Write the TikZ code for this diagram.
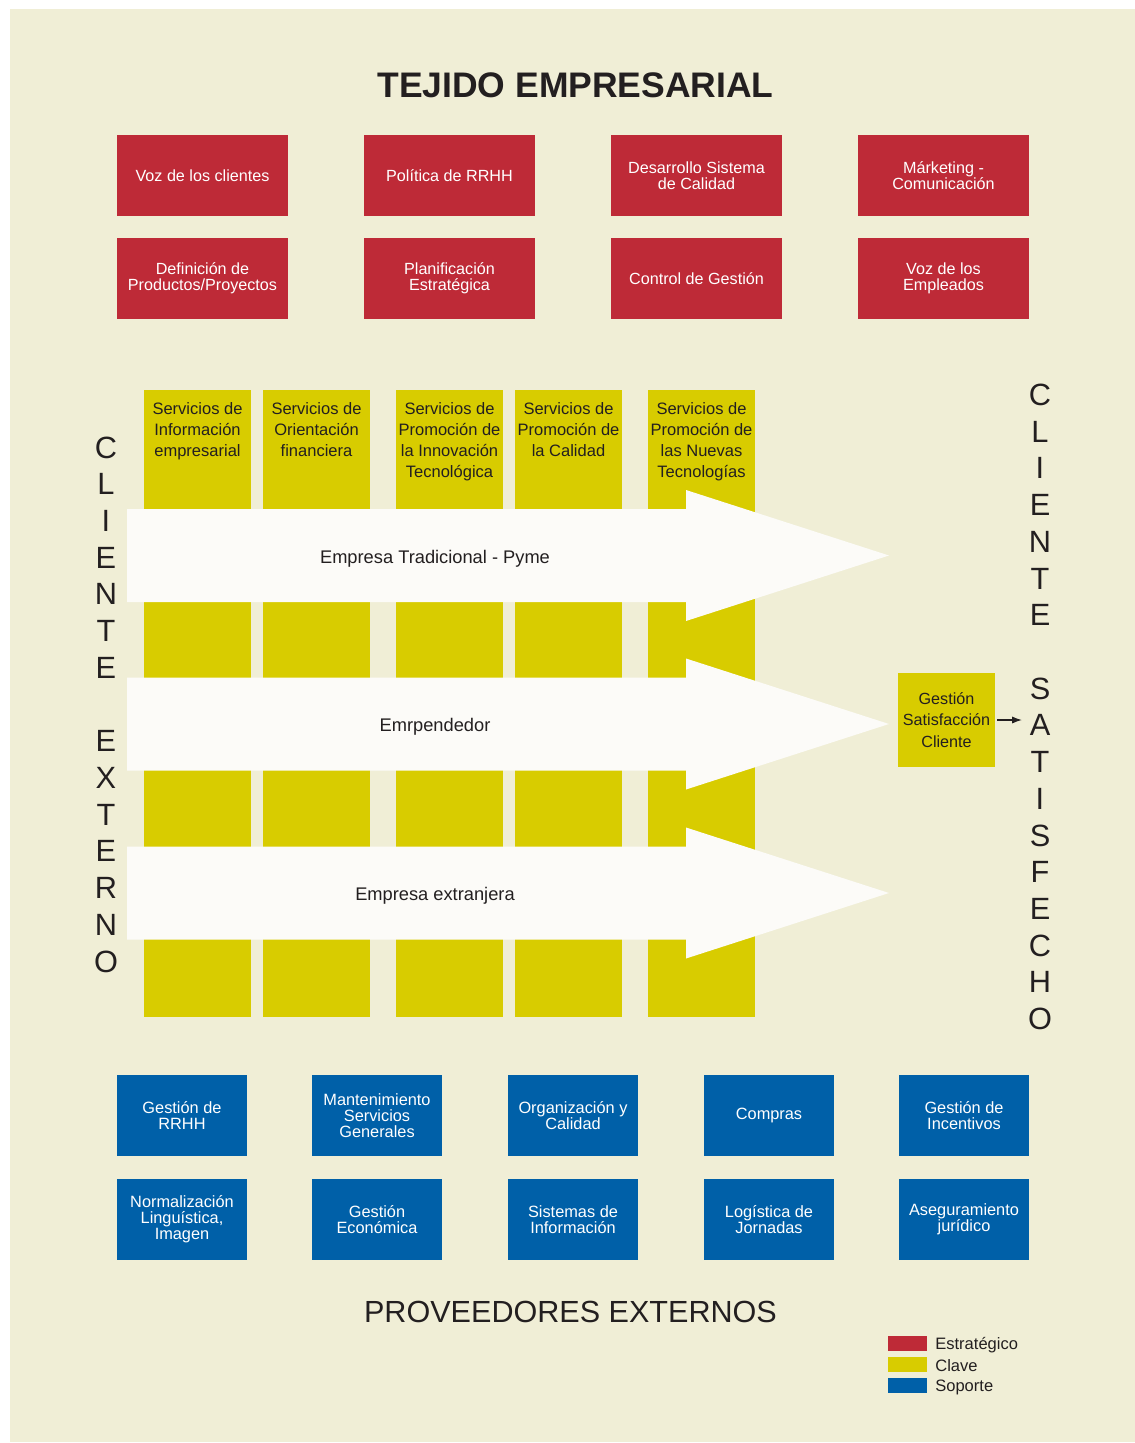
\documentclass[tikz,border=0pt]{standalone}
\usepackage{fontspec}
\setmainfont{Liberation Sans}
\usetikzlibrary{arrows.meta}
\definecolor{paper}{HTML}{F0EED6}
\definecolor{stratred}{HTML}{BE2A37}
\definecolor{keyyellow}{HTML}{D8CC00}
\definecolor{supblue}{HTML}{0060A8}
\definecolor{ink}{HTML}{231F20}
\definecolor{arrowwhite}{HTML}{FCFBF8}
\tikzset{
  strat/.style={fill=stratred, text=white, minimum width=3.42cm, minimum height=1.62cm,
    inner sep=0pt, align=center, font=\fontsize{9.2}{9.1}\selectfont},
  supp/.style={fill=supblue, text=white, minimum width=2.6cm, minimum height=1.62cm,
    inner sep=0pt, align=center, font=\fontsize{9.3}{9.1}\selectfont},
  keycol/.style={fill=keyyellow, minimum width=2.14cm, minimum height=12.54cm, inner sep=0pt},
  keytext/.style={text=ink, align=center, anchor=north, inner sep=0pt,
    font=\fontsize{9.4}{12}\selectfont},
  gscbox/.style={fill=keyyellow, text=ink, minimum width=1.94cm, minimum height=1.88cm,
    inner sep=0pt, align=center, font=\fontsize{9.2}{12.2}\selectfont},
  vletters/.style={text=ink, align=center, font=\fontsize{17.5}{20.9}\selectfont},
  flowlabel/.style={text=ink, font=\fontsize{10.4}{12}\selectfont},
  legbox/.style={minimum width=0.78cm, minimum height=0.3cm, inner sep=0pt},
  legtext/.style={text=ink, anchor=west, inner sep=0pt, font=\fontsize{9.4}{11}\selectfont}
}
\begin{document}
\begin{tikzpicture}[x=0.02cm, y=-0.02cm]
\useasboundingbox (0,0) rectangle (1135,1443);
\fill[paper] (10,9) rectangle (1135,1442);

% Title
\node[text=ink, font=\bfseries\fontsize{20.2}{24}\selectfont] (tejido) at (575.5,85) {TEJIDO EMPRESARIAL};

% Strategic processes
\node[strat] (vozcli) at (202.5,175.5) {Voz de los clientes};
\node[strat] (polrrhh) at (449.5,175.5) {Política de RRHH};
\node[strat] (descal) at (696.5,175.5) {Desarrollo Sistema\\de Calidad};
\node[strat] (marketing) at (943.5,175.5) {Márketing -\\Comunicación};
\node[strat] (defprod) at (202.5,278.5) {Definición de\\Productos/Proyectos};
\node[strat] (planest) at (449.5,278.5) {Planificación\\Estratégica};
\node[strat] (control) at (696.5,278.5) {Control de Gestión};
\node[strat] (vozemp) at (943.5,278.5) {Voz de los\\Empleados};

% Key processes (columns)
\node[keycol] (infoemp) at (197.5,703.5) {};
\node[keycol] (orifin) at (316.5,703.5) {};
\node[keycol] (innov) at (449.5,703.5) {};
\node[keycol] (calidad) at (568.5,703.5) {};
\node[keycol] (nuevtec) at (701.5,703.5) {};
\node[keytext] (infoemptxt) at ([yshift=-0.24cm]infoemp.north) {Servicios de\\Información\\empresarial};
\node[keytext] (orifintxt) at ([yshift=-0.24cm]orifin.north) {Servicios de\\Orientación\\financiera};
\node[keytext] (innovtxt) at ([yshift=-0.24cm]innov.north) {Servicios de\\Promoción de\\la Innovación\\Tecnológica};
\node[keytext] (calidadtxt) at ([yshift=-0.24cm]calidad.north) {Servicios de\\Promoción de\\la Calidad};
\node[keytext] (nuevtectxt) at ([yshift=-0.24cm]nuevtec.north) {Servicios de\\Promoción de\\las Nuevas\\Tecnologías};

% Client flows
\foreach \y/\lab/\txt in {555.5/pyme/Empresa Tradicional - Pyme, 724/emprende/Emrpendedor, 893/extranjera/Empresa extranjera} {
  \fill[arrowwhite] (127,\y-46.5) -- (686,\y-46.5) -- (686,\y-65.5) -- (889,\y)
    -- (686,\y+65.5) -- (686,\y+46.5) -- (127,\y+46.5) -- cycle;
  \node[flowlabel] (\lab) at (435,\y+3) {\txt};
}

% Client sides
\node[vletters] (cliext) at (106,704.5) {C\\L\\I\\E\\N\\T\\E\\~\\E\\X\\T\\E\\R\\N\\O};
\node[vletters] (clisat) at (1040,707) {C\\L\\I\\E\\N\\T\\E\\~\\S\\A\\T\\I\\S\\F\\E\\C\\H\\O};
\node[gscbox] (gsc) at (946.5,720) {Gestión\\Satisfacción\\Cliente};
\draw[ink, line width=0.6pt, shorten <=1pt, -{Latex[length=5.5pt,width=4pt]}] (gsc.east) -- (gsc.east -| clisat.west);

% Support processes
\node[supp] (gesrrhh) at (182,1115.5) {Gestión de\\RRHH};
\node[supp] (manten) at (377,1115.5) {Mantenimiento\\Servicios\\Generales};
\node[supp] (orgcal) at (573,1115.5) {Organización y\\Calidad};
\node[supp] (compras) at (769,1115.5) {Compras};
\node[supp] (incent) at (964,1115.5) {Gestión de\\Incentivos};
\node[supp] (normal) at (182,1219.5) {Normalización\\Linguística,\\Imagen};
\node[supp] (gesecon) at (377,1219.5) {Gestión\\Económica};
\node[supp] (sisinfo) at (573,1219.5) {Sistemas de\\Información};
\node[supp] (logjor) at (769,1219.5) {Logística de\\Jornadas};
\node[supp] (asegjur) at (964,1219.5) {Aseguramiento\\jurídico};

\node[text=ink, font=\fontsize{17.4}{21}\selectfont] (proveedores) at (570.5,1312) {PROVEEDORES EXTERNOS};

% Legend
\node[legbox, fill=stratred] (legstrat) at (907.5,1343.5) {};
\node[legbox, fill=keyyellow] (legclave) at (907.5,1364.5) {};
\node[legbox, fill=supblue] (legsop) at (907.5,1385.5) {};
\node[legtext] (legstrattxt) at (935,1345.5) {Estratégico};
\node[legtext] (legclavetxt) at (935,1365.5) {Clave};
\node[legtext] (legsoptxt) at (935,1387.5) {Soporte};
\end{tikzpicture}
\end{document}
